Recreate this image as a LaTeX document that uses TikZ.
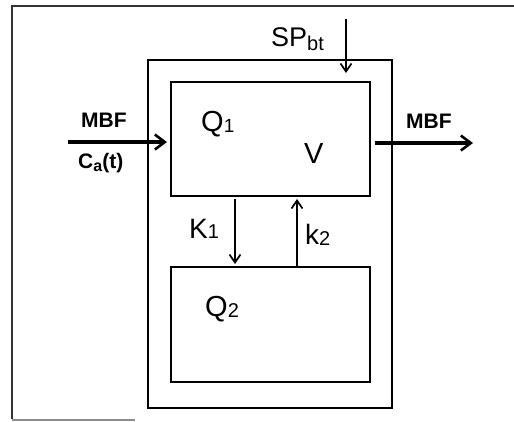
\documentclass[tikz,border=0pt]{standalone}
\usepackage{fontspec}
\setmainfont{Liberation Sans}
\usetikzlibrary{arrows.meta}
\newcommand{\fs}[1]{\fontsize{#1}{#1}\selectfont}
\newcommand{\lowsub}[3]{\raisebox{#2}{\fs{#1}#3}}
\tikzset{
  frameline/.style={line width=1.4pt, black!80},
  boxline/.style={draw, line width=1.9pt, inner sep=0pt},
  midline/.style={draw, line width=1.3pt, inner sep=0pt},
  thickarrow/.style={line width=3.4pt, -{Straight Barb[length=10pt,width=15pt,line width=2.6pt]}},
  thinarrow/.style={line width=1.7pt, -{Straight Barb[length=8pt,width=11pt]}},
  lbl/.style={anchor=base west, inner sep=0pt}
}
\begin{document}
\begin{tikzpicture}[x=1pt,y=-1pt]
\useasboundingbox (0,0) rectangle (514,421);
% outer scanned frame
\coordinate (fr1) at (12,419);
\coordinate (fr2) at (12,6);
\coordinate (fr3) at (514,6);
\coordinate (fb1) at (12,420);
\coordinate (fb2) at (135,420);
\draw[frameline] (fr1) -- (fr2) -- (fr3);
\draw[line width=1.2pt, black!45] (fb1) -- (fb2);
% boxes
\node[midline, minimum width=244pt, minimum height=348pt] (mid) at (270,234) {};
\node[boxline, minimum width=199pt, minimum height=114pt] (q1) at (270.5,139) {};
\node[boxline, minimum width=199pt, minimum height=115pt] (q2) at (270.5,324.5) {};
% coordinates for arrows
\coordinate (inS) at (68,142);
\coordinate (inE) at (167,142);
\coordinate (outS) at (375,143);
\coordinate (outE) at (473,143);
\coordinate (spS) at (346,19);
\coordinate (spE) at (346,73);
\coordinate (k1S) at (235,199);
\coordinate (k1E) at (235,264);
\coordinate (k2S) at (297,266);
\coordinate (k2E) at (297,199);
\draw[thickarrow] (inS) -- (inE);
\draw[thickarrow] (outS) -- (outE);
\draw[thinarrow] (spS) -- (spE);
\draw[thinarrow] (k1S) -- (k1E);
\draw[thinarrow] (k2S) -- (k2E);
% labels
\node[lbl] (sp) at (271,46) {\fs{27}SP\lowsub{20}{-4pt}{bt}};
\node[lbl] (mbfin) at (81,127) {\fs{21}\bfseries MBF};
\node[lbl] (ca) at (78,168) {\fs{21}\bfseries C\lowsub{16}{-3pt}{a}(t)};
\node[lbl] (mbfout) at (406,128) {\fs{21}\bfseries MBF};
\node[lbl] (qa) at (201,131) {\fs{29}Q\lowsub{19}{-1pt}{1}};
\node[lbl] (v) at (304,163) {\fs{29}V};
\node[lbl] (ka) at (189,238) {\fs{28}K\lowsub{20}{0pt}{1}};
\node[lbl] (kb) at (305,244) {\fs{28}k\lowsub{20}{-1pt}{2}};
\node[lbl] (qb) at (205,316) {\fs{29}Q\lowsub{20}{-1pt}{2}};
\end{tikzpicture}
\end{document}
